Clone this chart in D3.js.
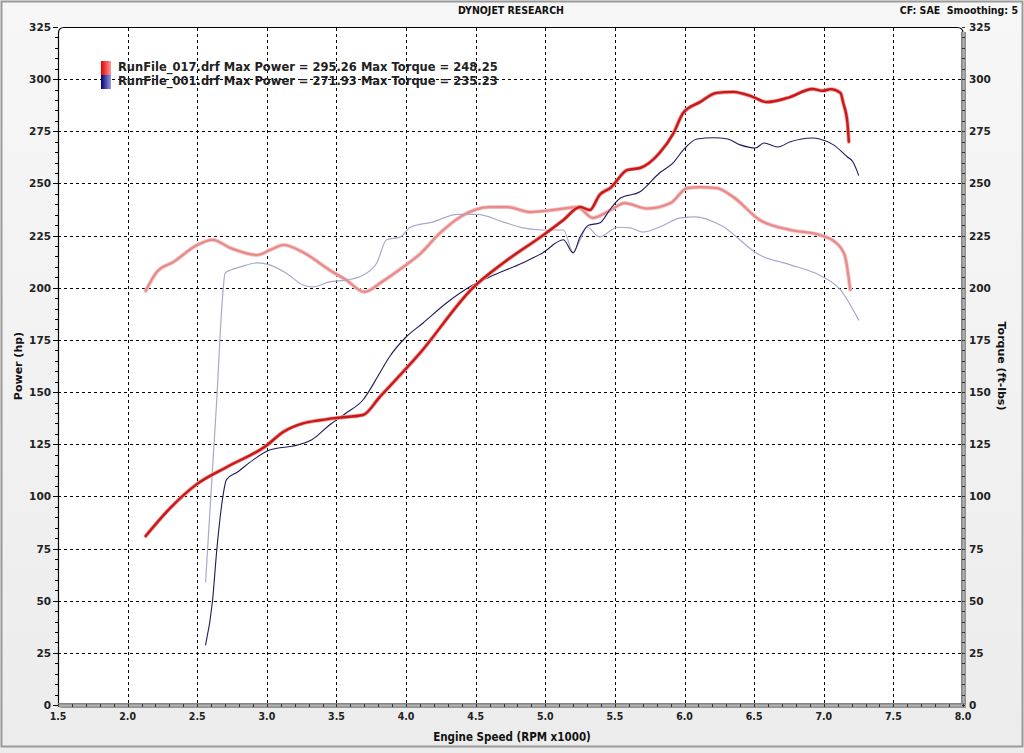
<!DOCTYPE html>
<html>
<head>
<meta charset="utf-8">
<script src="https://cdn.jsdelivr.net/npm/d3@7"></script>
<style>
  html, body { margin: 0; padding: 0; background: #fff; }
  svg { display: block; }
  text { font-family: "DejaVu Sans", Verdana, sans-serif; }
</style>
</head>
<body>
<svg id="chart" width="1024" height="753"></svg>
<script>
// ---------- data ----------
const xTicks = [1.5, 2.0, 2.5, 3.0, 3.5, 4.0, 4.5, 5.0, 5.5, 6.0, 6.5, 7.0, 7.5, 8.0];
const yTicks = [0, 25, 50, 75, 100, 125, 150, 175, 200, 225, 250, 275, 300, 325];

const redPowerRpm = [2.13, 2.3, 2.5, 2.71, 2.99, 3.12, 3.26, 3.38, 3.5, 3.69, 3.81, 4.1, 4.48, 4.7, 4.98, 5.13, 5.25, 5.32, 5.39, 5.47, 5.59, 5.68, 5.82, 5.92, 5.99, 6.11, 6.23, 6.35, 6.49, 6.59, 6.74, 6.92, 6.99, 7.05, 7.12, 7.14, 7.17, 7.18];
const redPower    = [81, 94, 106, 114, 124, 131, 135, 136.5, 137.6, 139, 147.6, 168.7, 200, 212, 225, 232.5, 238.7, 237.3, 244.5, 248, 256.5, 257.4, 264.6, 274, 283.8, 289, 293.4, 293.9, 291.5, 289, 291, 295.3, 294.4, 295.2, 293.4, 288.6, 279, 270];

const redTorqueRpm = [2.13, 2.21, 2.33, 2.5, 2.61, 2.74, 2.93, 3.02, 3.12, 3.26, 3.45, 3.57, 3.7, 3.83, 3.98, 4.1, 4.24, 4.39, 4.6, 4.73, 4.89, 5.06, 5.23, 5.34, 5.47, 5.57, 5.73, 5.9, 6.02, 6.11, 6.23, 6.35, 6.54, 6.76, 6.97, 7.08, 7.15, 7.19];
const redTorque    = [198.5, 207.6, 212.4, 220.5, 223, 219, 215.7, 218, 220.5, 217, 208.5, 203.7, 198, 203, 210, 216.2, 226, 234, 238.7, 238.7, 236.3, 237.3, 238.7, 233.5, 237.3, 240.6, 238, 240.6, 247.8, 248.2, 247.8, 243.5, 232.5, 227.7, 225.3, 222, 215.7, 199];

const bluePowerRpm = [2.56, 2.61, 2.64, 2.68, 2.71, 2.79, 2.9, 3.02, 3.22, 3.32, 3.45, 3.57, 3.69, 3.81, 3.88, 4.0, 4.12, 4.29, 4.48, 4.6, 4.84, 4.98, 5.13, 5.2, 5.25, 5.31, 5.39, 5.47, 5.54, 5.68, 5.82, 5.92, 5.99, 6.09, 6.21, 6.31, 6.4, 6.51, 6.57, 6.67, 6.76, 6.92, 6.97, 7.07, 7.17, 7.21, 7.25];
const bluePower    = [28.8, 50, 74, 98, 108, 111.7, 117.4, 122.2, 124.6, 127, 134.2, 140, 146.2, 159, 166.8, 176.4, 183, 192.7, 201.3, 205.2, 212, 216.7, 223, 216.7, 224.4, 230, 231, 238, 243, 246, 255, 260, 266, 271.3, 271.9, 271.3, 268.5, 267, 269.4, 267.5, 270, 271.8, 271.3, 268.5, 262.7, 260.3, 254];

const blueTorqueRpm = [2.56, 2.64, 2.68, 2.7, 2.74, 2.81, 2.93, 3.02, 3.14, 3.26, 3.33, 3.45, 3.57, 3.69, 3.79, 3.86, 3.96, 4.03, 4.19, 4.37, 4.51, 4.7, 4.84, 4.98, 5.13, 5.2, 5.25, 5.3, 5.39, 5.52, 5.61, 5.7, 5.85, 5.97, 6.08, 6.26, 6.54, 6.76, 6.97, 7.12, 7.25];
const blueTorque    = [59, 146, 194, 207, 208.5, 210, 211.9, 211, 207, 201.3, 200.4, 202.8, 203.7, 206, 212, 223, 224.4, 229, 231.5, 235.2, 235.2, 231.5, 228.7, 227.7, 227.7, 217, 223, 229, 224.4, 229, 228.7, 226.7, 230, 233.5, 234, 230, 215.7, 211, 206, 199, 184.6];

const legendLabels = [
  "RunFile_017.drf Max Power = 295.26 Max Torque = 248.25",
  "RunFile_001.drf Max Power = 271.93 Max Torque = 235.23"
];

// ---------- layout ----------
const svg = d3.select("#chart");
const W = 1024, H = 753;
const L = 58, R = 963, T = 27, B = 705;

const x = d3.scaleLinear().domain([1.5, 8]).range([L, R]);
const y = d3.scaleLinear().domain([0, 325]).range([B, T]);

const defs = svg.append("defs");
const bg = defs.append("linearGradient").attr("id", "bg").attr("x1", 0).attr("y1", 0).attr("x2", 0).attr("y2", 1);
bg.append("stop").attr("offset", "0%").attr("stop-color", "#f7f7f7");
bg.append("stop").attr("offset", "100%").attr("stop-color", "#ececec");

const barV = defs.append("linearGradient").attr("id", "barV").attr("x1", 0).attr("x2", 1);
barV.append("stop").attr("offset", "0%").attr("stop-color", "#7a7a7a");
barV.append("stop").attr("offset", "50%").attr("stop-color", "#b0b0b0");
barV.append("stop").attr("offset", "100%").attr("stop-color", "#8a8a8a");
const barH = defs.append("linearGradient").attr("id", "barH").attr("x1", 0).attr("x2", 0).attr("y1", 0).attr("y2", 1);
barH.append("stop").attr("offset", "0%").attr("stop-color", "#7a7a7a");
barH.append("stop").attr("offset", "50%").attr("stop-color", "#b0b0b0");
barH.append("stop").attr("offset", "100%").attr("stop-color", "#8a8a8a");

const legRed = defs.append("linearGradient").attr("id", "legRed").attr("x1", 0).attr("x2", 1);
legRed.append("stop").attr("offset", "0%").attr("stop-color", "#e00000");
legRed.append("stop").attr("offset", "100%").attr("stop-color", "#ff9a9a");
const legBlue = defs.append("linearGradient").attr("id", "legBlue").attr("x1", 0).attr("x2", 1);
legBlue.append("stop").attr("offset", "0%").attr("stop-color", "#00007a");
legBlue.append("stop").attr("offset", "100%").attr("stop-color", "#9a9ae0");

// background
svg.append("rect").attr("x", 0).attr("y", 0).attr("width", W).attr("height", H).attr("fill", "url(#bg)");
svg.append("rect").attr("x", 1.5).attr("y", 1.5).attr("width", W - 3).attr("height", H - 8)
  .attr("fill", "none").attr("stroke", "#9a9a9a").attr("stroke-width", 2);

// plot area
svg.append("path")
  .attr("d", `M${L},${B} L${L},${T + 6} Q${L},${T} ${L + 6},${T} L${R - 6},${T} Q${R},${T} ${R},${T + 6} L${R},${B} Z`)
  .attr("fill", "#ffffff");

// grid
const grid = svg.append("g").attr("stroke", "#000").attr("stroke-width", 1).attr("stroke-dasharray", "3,3");
grid.selectAll("line.gx").data(xTicks.filter(v => v > 1.5 && v < 8)).join("line")
  .attr("x1", d => Math.round(x(d)) + 0.5).attr("x2", d => Math.round(x(d)) + 0.5)
  .attr("y1", T + 1).attr("y2", B);
grid.selectAll("line.gy").data(yTicks.filter(v => v > 0 && v < 325)).join("line")
  .attr("y1", d => Math.round(y(d)) + 0.5).attr("y2", d => Math.round(y(d)) + 0.5)
  .attr("x1", L).attr("x2", R);

// frame lines (left + top, rounded corners)
svg.append("path")
  .attr("d", `M${L + 0.5},${B} L${L + 0.5},${T + 6} Q${L + 0.5},${T + 0.5} ${L + 6},${T + 0.5} L${R - 6},${T + 0.5} Q${R},${T + 0.5} ${R},${T + 6}`)
  .attr("fill", "none").attr("stroke", "#000").attr("stroke-width", 1.2);

// right bar
svg.append("rect").attr("x", R - 2).attr("y", T + 5).attr("width", 5).attr("height", B - T - 2).attr("fill", "url(#barV)");
// bottom bar
svg.append("path")
  .attr("d", `M${L},${B - 2} L${R + 3},${B - 2} L${R + 3},${B + 3} L${L + 4},${B + 3} Q${L},${B + 3} ${L},${B - 2} Z`)
  .attr("fill", "url(#barH)");

// minor ticks
const yMinor = d3.range(0, 326, 5);
svg.append("g").selectAll("line").data(yMinor).join("line")
  .attr("x1", d => (d % 25 === 0 ? L - 5 : L - 3)).attr("x2", L)
  .attr("y1", d => Math.round(y(d)) + 0.5).attr("y2", d => Math.round(y(d)) + 0.5)
  .attr("stroke", "#000").attr("stroke-width", 1);
svg.append("g").selectAll("line").data(yMinor).join("line")
  .attr("x1", R - 1).attr("x2", R + 2)
  .attr("y1", d => Math.round(y(d)) + 0.5).attr("y2", d => Math.round(y(d)) + 0.5)
  .attr("stroke", "#333").attr("stroke-width", 1);
const xMinor = d3.range(15, 81, 1).map(v => v / 10);
svg.append("g").selectAll("line").data(xMinor).join("line")
  .attr("x1", d => Math.round(x(d)) + 0.5).attr("x2", d => Math.round(x(d)) + 0.5)
  .attr("y1", B - 1).attr("y2", B + 2)
  .attr("stroke", "#333").attr("stroke-width", 1);

// tick labels
svg.append("g").selectAll("text").data(yTicks).join("text")
  .attr("x", L - 7).attr("y", d => y(d) + 4)
  .attr("text-anchor", "end").attr("font-size", 10.5).attr("font-weight", "bold").attr("fill", "#222")
  .text(d => d);
svg.append("g").selectAll("text").data(yTicks).join("text")
  .attr("x", R + 6).attr("y", d => y(d) + 4)
  .attr("text-anchor", "start").attr("font-size", 10.5).attr("font-weight", "bold").attr("fill", "#222")
  .text(d => d);
svg.append("g").selectAll("text").data(xTicks).join("text")
  .attr("x", d => x(d)).attr("y", B + 15)
  .attr("text-anchor", "middle").attr("font-size", 10.5).attr("font-weight", "bold").attr("fill", "#222")
  .style("font-family", "\"DejaVu Sans Condensed\", \"DejaVu Sans\", sans-serif")
  .text(d => d.toFixed(1));

// titles
svg.append("text").attr("x", 511).attr("y", 14).attr("text-anchor", "middle")
  .attr("font-size", 10.5).attr("font-weight", "bold").attr("fill", "#111")
  .style("font-family", "\"DejaVu Sans Condensed\", sans-serif")
  .text("DYNOJET RESEARCH");
svg.append("text").attr("x", 1018).attr("y", 14).attr("text-anchor", "end")
  .attr("font-size", 10.5).attr("font-weight", "bold").attr("fill", "#111")
  .style("font-family", "\"DejaVu Sans Condensed\", sans-serif")
  .attr("xml:space", "preserve")
  .text("CF: SAE  Smoothing: 5");
svg.append("text").attr("x", 512).attr("y", 741).attr("text-anchor", "middle")
  .attr("font-size", 11.5).attr("font-weight", "bold").attr("fill", "#111")
  .style("font-family", "\"DejaVu Sans Condensed\", sans-serif")
  .text("Engine Speed (RPM x1000)");
svg.append("text").attr("transform", "translate(22,366) rotate(-90)").attr("text-anchor", "middle")
  .attr("font-size", 11).attr("font-weight", "bold").attr("fill", "#111")
  .text("Power (hp)");
svg.append("text").attr("transform", "translate(998,366) rotate(90)").attr("text-anchor", "middle")
  .attr("font-size", 11).attr("font-weight", "bold").attr("fill", "#111")
  .text("Torque (ft-lbs)");

// ---------- curves ----------
const line = d3.line().x(d => x(d[0])).y(d => y(d[1])).curve(d3.curveMonotoneX);
const zip = (a, b) => a.map((v, i) => [v, b[i]]);
const plot = svg.append("g").attr("fill", "none").attr("stroke-linejoin", "round").attr("stroke-linecap", "round");

// red torque (light)
plot.append("path").attr("d", line(zip(redTorqueRpm, redTorque))).attr("stroke", "#f6c4c4").attr("stroke-width", 4);
plot.append("path").attr("d", line(zip(redTorqueRpm, redTorque))).attr("stroke", "#e88a8a").attr("stroke-width", 2.2);
// blue torque (light)
plot.append("path").attr("d", line(zip(blueTorqueRpm, blueTorque))).attr("stroke", "#a8a8cc").attr("stroke-width", 1.2);
// blue power (dark)
plot.append("path").attr("d", line(zip(bluePowerRpm, bluePower))).attr("stroke", "#1c1c5a").attr("stroke-width", 1.1);
// red power (dark)
plot.append("path").attr("d", line(zip(redPowerRpm, redPower))).attr("stroke", "#f0a0a0").attr("stroke-width", 4);
plot.append("path").attr("d", line(zip(redPowerRpm, redPower))).attr("stroke", "#c81818").attr("stroke-width", 2.4);

// ---------- legend ----------
const leg = svg.append("g");
const legFills = ["url(#legRed)", "url(#legBlue)"];
leg.selectAll("rect").data(legendLabels).join("rect")
  .attr("x", 101).attr("y", (d, i) => 61 + i * 14).attr("width", 10).attr("height", 14)
  .attr("fill", (d, i) => legFills[i]);
leg.selectAll("text").data(legendLabels).join("text")
  .attr("x", 118).attr("y", (d, i) => 71 + i * 14)
  .attr("font-size", 11.5).attr("font-weight", "bold").attr("fill", "#222")
  .text(d => d);
</script>
</body>
</html>
